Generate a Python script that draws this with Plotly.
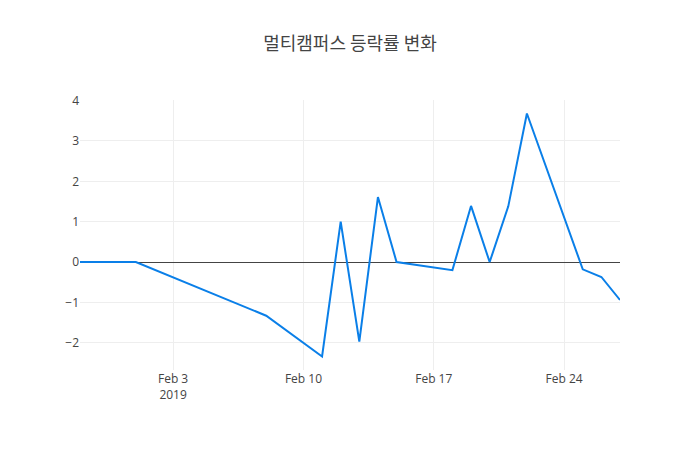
import plotly.graph_objects as go

dates = ["2019-01-29", "2019-02-01", "2019-02-08", "2019-02-11", "2019-02-12",
         "2019-02-13", "2019-02-14", "2019-02-15", "2019-02-18", "2019-02-19",
         "2019-02-20", "2019-02-21", "2019-02-22", "2019-02-25", "2019-02-26",
         "2019-02-27"]
changes = [0.0, 0.0, -1.33, -2.34, 1.0, -1.97, 1.61, 0.0, -0.2, 1.39,
           0.0, 1.38, 3.68, -0.18, -0.37, -0.94]

W, H = 692, 442
fig = go.Figure(go.Scatter(x=dates, y=changes, mode="lines",
                           line=dict(color="#0a7fe8", width=2)))
fig.update_layout(
    template="none",
    width=W, height=H,
    margin=dict(l=72, r=80, t=92, b=80),
    title=dict(text="멀티캠퍼스 등락률 변화", x=(350 - 8) / W, xanchor="center",
               xref="container", yref="container",
               y=1 - 36 / H, yanchor="middle",
               font=dict(family="Noto Sans CJK KR", size=18, color="#444")),
    font=dict(family="Open Sans", size=12, color="#444"),
    paper_bgcolor="white", plot_bgcolor="white",
    showlegend=False,
)
fig.update_xaxes(showgrid=True, gridcolor="#eee", zeroline=False, showline=False,
                 ticks="", tickfont=dict(family="Open Sans", size=12, color="#444"))
fig.update_yaxes(showgrid=True, gridcolor="#eee", zeroline=True, zerolinecolor="#444",
                 zerolinewidth=1, showline=False, ticks="",
                 tickfont=dict(family="Open Sans", size=12, color="#444"))
fig.write_html("out.html")
